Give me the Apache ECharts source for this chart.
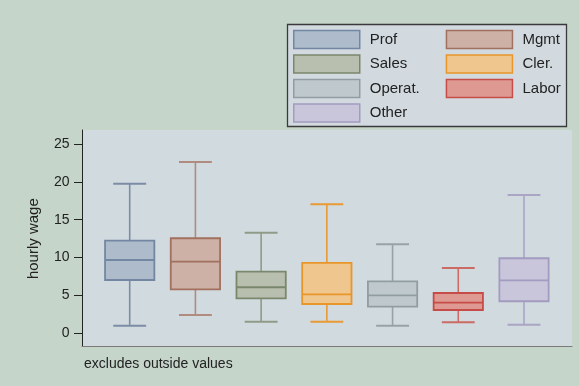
<!DOCTYPE html>
<html>
<head>
<meta charset="utf-8">
<script src="https://cdn.jsdelivr.net/npm/echarts@6/dist/echarts.min.js"></script>
<style>
html,body{margin:0;padding:0;background:#c5d5ca;}
#chart{width:579px;height:386px;}
</style>
</head>
<body>
<div id="chart"></div>
<script>
// ---- data ----
const categories = ['Prof', 'Mgmt', 'Sales', 'Cler.', 'Operat.', 'Labor', 'Other'];
const lowWhisker  = [1.00, 2.42, 1.53, 1.53, 1.00, 1.45, 1.14];
const q1          = [7.04, 5.81, 4.62, 3.87, 3.51, 3.08, 4.23];
const median      = [9.68, 9.46, 6.08, 5.15, 5.02, 4.04, 7.00];
const q3          = [12.23, 12.55, 8.14, 9.29, 6.87, 5.32, 9.91];
const highWhisker = [19.76, 22.63, 13.29, 17.04, 11.76, 8.63, 18.27];
const yTicks = [0, 5, 10, 15, 20, 25];
const legendCol1 = ['Prof', 'Sales', 'Operat.', 'Other'];
const legendCol2 = ['Mgmt', 'Cler.', 'Labor'];

// ---- styles ----
const fills   = ['#adbbcb', '#cdb0a6', '#b8bfae', '#f0c68f', '#bfc8cd', '#de9a92', '#c9c5da'];
const strokes = ['#7387a2', '#a2705f', '#7b876d', '#e8952a', '#919da3', '#c64c47', '#a39cc0'];
const whiskerCols = ['#7b8ca4', '#b08b7f', '#8f9a87', '#e99a35', '#97a2a7', '#cc6a64', '#aaa4c5'];
const FONT = '"Liberation Sans", Arial, Helvetica, sans-serif';
const TXT = '#222';

const chart = echarts.init(document.getElementById('chart'), null, {renderer: 'canvas'});

function renderItem(params, api) {
  const idx = params.seriesIndex;
  const x = api.value(0);
  const pLo = api.coord([x, api.value(1)]);
  const pQ1 = api.coord([x, api.value(2)]);
  const pMd = api.coord([x, api.value(3)]);
  const pQ3 = api.coord([x, api.value(4)]);
  const pHi = api.coord([x, api.value(5)]);
  const bw = api.size([1, 0])[0];
  const half = bw * 0.375;
  const cap = bw * 0.25;
  const cx = pMd[0];
  const wStyle = {stroke: whiskerCols[idx], lineWidth: 1.6};
  return {
    type: 'group',
    children: [
      {type: 'line', shape: {x1: cx, y1: pQ3[1], x2: cx, y2: pHi[1]}, style: wStyle},
      {type: 'line', shape: {x1: cx, y1: pQ1[1], x2: cx, y2: pLo[1]}, style: wStyle},
      {type: 'line', shape: {x1: cx - cap, y1: pHi[1], x2: cx + cap, y2: pHi[1]}, style: {stroke: whiskerCols[idx], lineWidth: 2}},
      {type: 'line', shape: {x1: cx - cap, y1: pLo[1], x2: cx + cap, y2: pLo[1]}, style: {stroke: whiskerCols[idx], lineWidth: 2}},
      {type: 'rect', shape: {x: cx - half, y: pQ3[1], width: 2 * half, height: pQ1[1] - pQ3[1]},
        style: {fill: fills[idx], stroke: strokes[idx], lineWidth: 1.8}},
      {type: 'line', shape: {x1: cx - half, y1: pMd[1], x2: cx + half, y2: pMd[1]},
        style: {stroke: strokes[idx], lineWidth: 1.8}}
    ]
  };
}

const series = categories.map((c, i) => ({
  type: 'custom',
  name: c,
  xAxisIndex: 1,
  yAxisIndex: 1,
  renderItem: renderItem,
  itemStyle: {color: fills[i], borderColor: strokes[i]},
  encode: {x: 0, y: [1, 2, 3, 4, 5]},
  data: [[i, lowWhisker[i], q1[i], median[i], q3[i], highWhisker[i]]],
  silent: true
}));

function legendData(names) {
  return names.map(n => {
    const i = categories.indexOf(n);
    return {name: n, icon: 'rect', itemStyle: {color: fills[i], borderColor: strokes[i], borderWidth: 1.5}};
  });
}

const legendCommon = {
  orient: 'vertical',
  itemWidth: 66,
  itemHeight: 18,
  itemGap: 5,
  padding: 0,
  selectedMode: false,
  textStyle: {fontFamily: FONT, fontSize: 15, lineHeight: 18, color: TXT, padding: [0, 0, 0, 5]}
};

const option = {
  backgroundColor: '#c5d5ca',
  animation: false,
  textStyle: {fontFamily: FONT},
  graphic: [{
    type: 'rect', z: 0,
    shape: {x: 287.5, y: 24.5, width: 279, height: 102},
    style: {fill: '#d2dae0', stroke: '#3a3a3a', lineWidth: 1.3}
  }],
  title: {
    text: 'excludes outside values',
    left: 84, top: 357, padding: 0,
    textStyle: {fontFamily: FONT, fontSize: 14, fontWeight: 'normal', color: TXT}
  },
  legend: [
    Object.assign({}, legendCommon, {left: 293, top: 29.7, data: legendData(legendCol1)}),
    Object.assign({}, legendCommon, {left: 445.7, top: 29.7, data: legendData(legendCol2)})
  ],
  grid: [
    {left: 82, right: 7, top: 130, bottom: 40, show: true, backgroundColor: '#d1dadf', borderWidth: 0},
    {left: 96.84, right: 22.14, top: 144, bottom: 52.7}
  ],
  xAxis: [
    {gridIndex: 0, type: 'value', min: 0, max: 1,
      axisLine: {show: true, onZero: false, lineStyle: {color: '#7a7a7a', width: 1}},
      axisTick: {show: false}, axisLabel: {show: false}, splitLine: {show: false}},
    {gridIndex: 1, type: 'category', data: categories, show: false}
  ],
  yAxis: [
    {gridIndex: 0, type: 'value', min: 0, max: 1,
      axisLine: {show: true, onZero: false, lineStyle: {color: '#222', width: 1}},
      axisTick: {show: false}, axisLabel: {show: false}, splitLine: {show: false}},
    {gridIndex: 1, type: 'value', min: yTicks[0], max: yTicks[yTicks.length - 1], interval: 5,
      offset: 14.84,
      axisLine: {show: false},
      axisTick: {show: true, length: 8, lineStyle: {color: '#222', width: 1}},
      axisLabel: {margin: 12.5, fontSize: 14, color: TXT, fontFamily: FONT},
      splitLine: {show: false},
      name: 'hourly wage', nameLocation: 'middle', nameGap: 41,
      nameTextStyle: {fontSize: 15, color: TXT, fontFamily: FONT}}
  ],
  series: series
};

chart.setOption(option);
</script>
</body>
</html>
